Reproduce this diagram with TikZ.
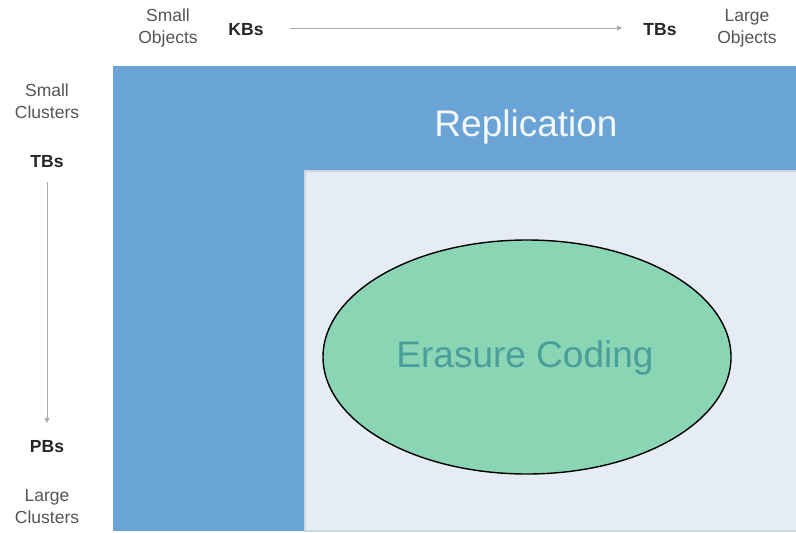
\documentclass[tikz,border=0pt]{standalone}
\usepackage{fontspec}
\setmainfont{Liberation Sans}
\usetikzlibrary{arrows.meta,shapes.geometric}
\definecolor{repblue}{HTML}{6AA3D6}
\definecolor{innerbg}{HTML}{E6ECF6}
\definecolor{innerline}{HTML}{CDD6E2}
\definecolor{ecfill}{HTML}{8AD5B3}
\definecolor{ectext}{HTML}{4A9E9C}
\definecolor{lbl}{HTML}{555555}
\definecolor{axis}{HTML}{AAAAAA}
\tikzset{
  lab/.style={font=\fontsize{17.5}{22}\selectfont, text=lbl, align=center, inner sep=0pt},
  unit/.style={font=\fontsize{17.5}{20}\selectfont\bfseries, text=black!85, inner sep=0pt},
  axisarrow/.style={draw=axis, line width=0.8pt, -{Triangle[length=5pt,width=5pt]}}
}
\begin{document}
\begin{tikzpicture}[x=1pt,y=-1pt]
\useasboundingbox (0,0) rectangle (796,533);
\fill[white] (0,0) rectangle (796,533);
% regions
\node[fill=repblue, inner sep=0pt, minimum width=683pt, minimum height=465pt, anchor=north west] (rep) at (113,66) {};
\node[fill=innerbg, draw=innerline, line width=1.5pt, inner sep=0pt, minimum width=494pt, minimum height=360pt, anchor=north west] (inner) at (304,170) {};
\node[font=\fontsize{37}{42}\selectfont, text=white!92!repblue] (replab) at (526,127) {Replication};
\node[ellipse, draw=black, line width=1.4pt, fill=ecfill, minimum width=408pt, minimum height=234pt, inner sep=0pt] (ec) at (527,357) {};
\node[font=\fontsize{37}{42}\selectfont, text=ectext] (eclab) at (525,358) {Erasure Coding};
% top axis
\node[lab] (smallobj) at (168,28) {Small\\Objects};
\node[unit] (kb) at (246,30) {KBs};
\node[unit] (tbtop) at (660,30) {TBs};
\node[lab] (largeobj) at (747,28) {Large\\Objects};
\coordinate (ta) at (290,28);
\coordinate (tb) at (622,28);
\draw[axisarrow] (ta) -- (tb);
% left axis
\node[lab] (smallcl) at (47,101) {Small\\Clusters};
\node[unit] (tbleft) at (47,162) {TBs};
\node[unit] (pb) at (47,447) {PBs};
\node[lab] (largecl) at (47,507) {Large\\Clusters};
\coordinate (la) at (47,182);
\coordinate (lb) at (47,423);
\draw[axisarrow] (la) -- (lb);
\end{tikzpicture}
\end{document}
